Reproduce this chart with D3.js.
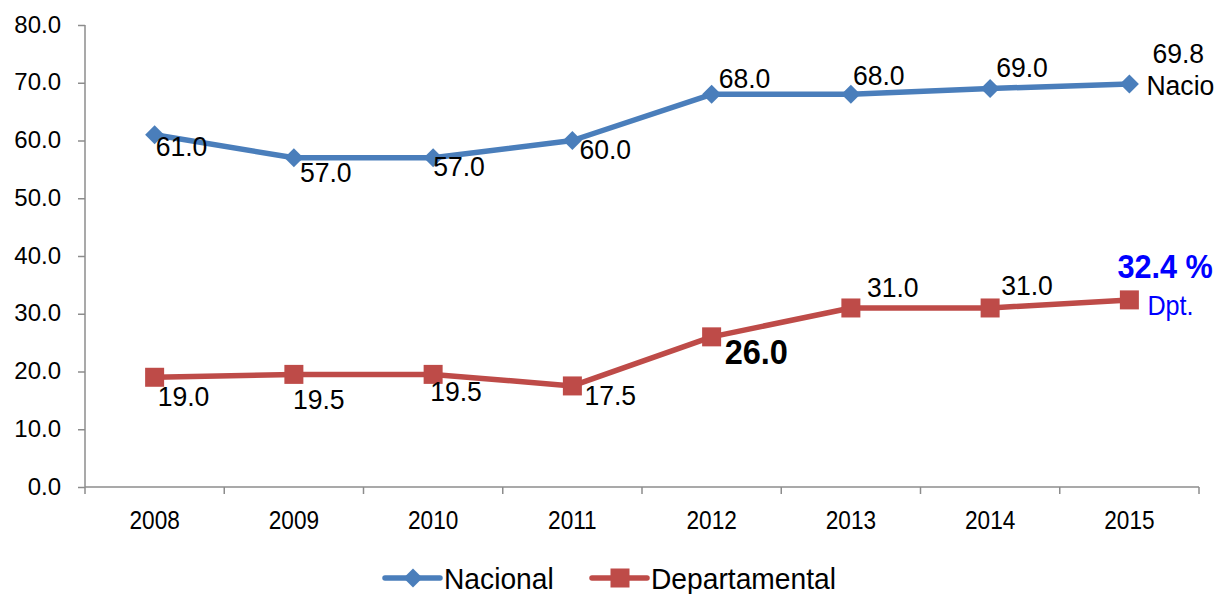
<!DOCTYPE html>
<html><head><meta charset="utf-8">
<script src="https://cdn.jsdelivr.net/npm/d3@7"></script>
<style>body{margin:0;background:#fff}svg{display:block;font-family:"Liberation Sans",Arial,sans-serif}</style>
</head><body><svg id="c" width="1217" height="594"></svg>
<script>
const years = ["2008","2009","2010","2011","2012","2013","2014","2015"];
const nacional = [61.0, 57.0, 57.0, 60.0, 68.0, 68.0, 69.0, 69.8];
const departamental = [19.0, 19.5, 19.5, 17.5, 26.0, 31.0, 31.0, 32.4];
const yTicks = [0,10,20,30,40,50,60,70,80];
const seriesNames = ["Nacional","Departamental"];
// label offsets (dx, dy of baseline) relative to point
const nacOff = [[1,21],[6,24],[0,18],[7,18],[7,-6],[2,-9],[6,-12]];
const depOff = [[3,29],[-1,35],[-3,27],[12,19],[13,27],[16,-11],[11,-13]];

const svg = d3.select("#c");
const x = d3.scaleBand().domain(years).range([85,1199]);
const y = d3.scaleLinear().domain([0,80]).range([487,25]);
const cx = d => x(d) + x.bandwidth()/2;
const gray = "#8c8c8c";

function label(g, px, py, str, size, sx, opts={}) {
  const t = g.append("text")
    .attr("transform", `translate(${px},${py}) scale(${sx},1)`)
    .attr("font-size", size).attr("fill", opts.fill || "#000")
    .attr("text-anchor", opts.anchor || "start")
    .text(str);
  if (opts.bold) t.attr("font-weight", "bold");
  return t;
}

// axes
const gy = svg.append("g").attr("transform","translate(85,0)")
  .call(d3.axisLeft(y).tickValues(yTicks).tickSize(7).tickPadding(17).tickFormat(d3.format(".1f")));
gy.select(".domain").attr("stroke",gray).attr("stroke-width",1.5).attr("d","M0,25V487");
gy.selectAll(".tick line").attr("stroke",gray).attr("stroke-width",1.5);
gy.selectAll(".tick text").attr("font-size",24).attr("fill","#000").attr("dy","0.3em").attr("font-family","Liberation Sans, Arial");

const gx = svg.append("g").attr("transform","translate(0,487)")
  .call(d3.axisBottom(x).tickSize(0).tickPadding(0));
gx.select(".domain").attr("stroke",gray).attr("stroke-width",1.5).attr("d","M85,0H1199");
gx.selectAll(".tick text").attr("font-size",26).attr("fill","#000").attr("y",0).attr("dy",0)
  .attr("transform","translate(0,42) scale(0.87,1)").attr("font-family","Liberation Sans, Arial");
// boundary ticks
const bounds = years.map(d=>x(d)).concat([x.range()[1]]);
svg.append("g").selectAll("line").data(bounds).join("line")
  .attr("x1",d=>d).attr("x2",d=>d).attr("y1",487).attr("y2",494)
  .attr("stroke",gray).attr("stroke-width",1.5);

const blue = "#4a7ebb", red = "#be4b48";
const line = d3.line().x((d,i)=>cx(years[i])).y(d=>y(d));

svg.append("path").datum(nacional).attr("d",line).attr("fill","none").attr("stroke",blue).attr("stroke-width",5.5).attr("stroke-linejoin","round");
svg.append("path").datum(departamental).attr("d",line).attr("fill","none").attr("stroke",red).attr("stroke-width",5.5).attr("stroke-linejoin","round");

svg.append("g").selectAll("path").data(nacional).join("path")
  .attr("d", d3.symbol().type(d3.symbolSquare).size(180))
  .attr("transform",(d,i)=>`translate(${cx(years[i])},${y(d)}) rotate(45)`)
  .attr("fill",blue);
svg.append("g").selectAll("rect").data(departamental).join("rect")
  .attr("x",(d,i)=>cx(years[i])-9.5).attr("y",d=>y(d)-9.5).attr("width",19).attr("height",19)
  .attr("fill",red);

// data labels
const fmt = d3.format(".1f");
const lbl = svg.append("g");
nacOff.forEach((o,i)=>{
  label(lbl, cx(years[i])+o[0], y(nacional[i])+o[1], fmt(nacional[i]), 28, 0.95);
});
depOff.forEach((o,i)=>{
  if (i===4) label(lbl, cx(years[i])+o[0], y(departamental[i])+o[1], fmt(departamental[i]), 35, 0.93, {bold:true});
  else label(lbl, cx(years[i])+o[0], y(departamental[i])+o[1], fmt(departamental[i]), 28, 0.95);
});
// last points
const lx = cx(years[7]);
label(lbl, lx+23, y(nacional[7])-21, fmt(nacional[7]), 28, 0.95);
label(lbl, lx+17, y(nacional[7])+11, "Nacio", 28, 0.95);
label(lbl, lx-12, y(departamental[7])-22, fmt(departamental[7])+" %", 33, 0.93, {bold:true, fill:"#0000ff"});
label(lbl, lx+18, y(departamental[7])+15, "Dpt.", 28, 0.9, {fill:"#0000ff"});

// legend
const lg = svg.append("g");
const items = [{n:seriesNames[0],c:blue,x:385,m:"d"},{n:seriesNames[1],c:red,x:592,m:"s"}];
items.forEach(it=>{
  lg.append("line").attr("x1",it.x).attr("x2",it.x+55).attr("y1",578).attr("y2",578).attr("stroke",it.c).attr("stroke-width",5.5).attr("stroke-linecap","round");
  if(it.m==="d") lg.append("path").attr("d",d3.symbol().type(d3.symbolSquare).size(180)).attr("transform",`translate(${it.x+28},578) rotate(45)`).attr("fill",it.c);
  else lg.append("rect").attr("x",it.x+28-9.5).attr("y",578-9.5).attr("width",19).attr("height",19).attr("fill",it.c);
  label(lg, it.x+59, 589, it.n, 30, 0.94);
});
</script></body></html>
